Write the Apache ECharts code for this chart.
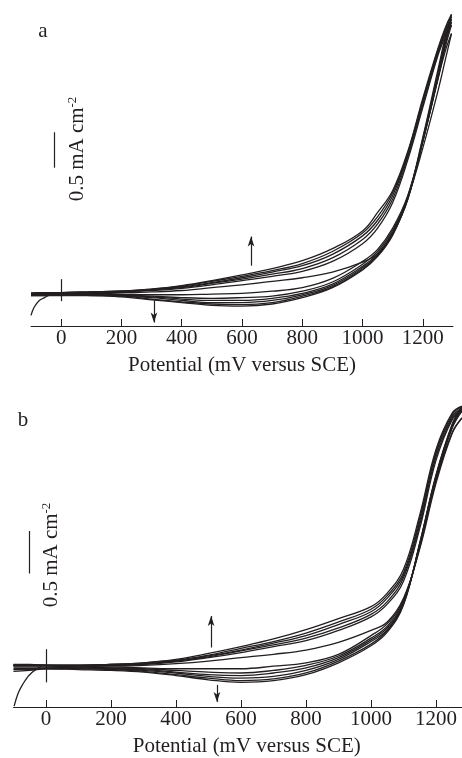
<!DOCTYPE html>
<html>
<head>
<meta charset="utf-8">
<script src="https://cdn.jsdelivr.net/npm/echarts@6/dist/echarts.min.js"></script>
<style>
  html, body { margin: 0; background: #fff; }
  #chart { width: 462px; height: 758px; }
</style>
</head>
<body>
<div id="chart"></div>
<script>
// tick labels shared by both panels (mV)
const xTicks = [0, 200, 400, 600, 800, 1000, 1200]

// ---- panel a : current density (mA cm-2) vs potential (mV vs SCE), 6 cycles
const potA = [-100, -50, 0, 100, 200, 300, 400, 500, 600, 700, 800, 900, 1000, 1050, 1100, 1150, 1200, 1250, 1275, 1295]
const fwdA = [
  [-0.01, 0.00, 0.00, 0.01, 0.01, 0.02, 0.04, 0.08, 0.12, 0.17, 0.22, 0.30, 0.44, 0.56, 0.85, 1.35, 2.05, 2.85, 3.30, 3.66],
  [0.00, 0.01, 0.01, 0.01, 0.02, 0.04, 0.07, 0.12, 0.18, 0.24, 0.31, 0.45, 0.70, 0.92, 1.28, 1.88, 2.62, 3.35, 3.62, 3.78],
  [0.00, 0.01, 0.01, 0.01, 0.02, 0.05, 0.08, 0.14, 0.20, 0.27, 0.35, 0.50, 0.76, 0.98, 1.33, 1.92, 2.66, 3.38, 3.66, 3.82],
  [0.00, 0.01, 0.01, 0.02, 0.03, 0.05, 0.09, 0.15, 0.22, 0.30, 0.39, 0.55, 0.81, 1.03, 1.38, 1.95, 2.70, 3.40, 3.69, 3.86],
  [0.00, 0.01, 0.01, 0.02, 0.03, 0.06, 0.10, 0.17, 0.24, 0.32, 0.42, 0.59, 0.85, 1.08, 1.42, 1.98, 2.72, 3.43, 3.72, 3.90],
  [0.00, 0.01, 0.01, 0.02, 0.03, 0.06, 0.11, 0.18, 0.26, 0.35, 0.46, 0.63, 0.88, 1.14, 1.45, 2.00, 2.75, 3.45, 3.75, 3.93]
]
const revA = [
  [-0.01, -0.01, 0.00, 0.00, -0.01, -0.02, -0.02, -0.01, 0.00, 0.03, 0.08, 0.21, 0.45, 0.62, 0.92, 1.38, 2.15, 3.02, 3.42, 3.66],
  [-0.02, -0.02, -0.01, -0.01, -0.02, -0.04, -0.06, -0.07, -0.06, -0.04, 0.03, 0.16, 0.41, 0.59, 0.89, 1.36, 2.14, 3.02, 3.48, 3.78],
  [-0.02, -0.02, -0.01, -0.02, -0.03, -0.05, -0.08, -0.10, -0.10, -0.07, 0.00, 0.13, 0.38, 0.56, 0.86, 1.34, 2.14, 3.04, 3.52, 3.82],
  [-0.02, -0.02, -0.02, -0.02, -0.04, -0.06, -0.10, -0.13, -0.13, -0.10, -0.02, 0.11, 0.36, 0.54, 0.84, 1.32, 2.16, 3.07, 3.56, 3.86],
  [-0.03, -0.03, -0.02, -0.03, -0.04, -0.08, -0.12, -0.15, -0.16, -0.13, -0.04, 0.09, 0.34, 0.53, 0.83, 1.33, 2.18, 3.10, 3.59, 3.90],
  [-0.03, -0.03, -0.03, -0.03, -0.05, -0.09, -0.13, -0.17, -0.18, -0.15, -0.06, 0.08, 0.33, 0.52, 0.82, 1.35, 2.20, 3.15, 3.62, 3.93]
]
// start of the first scan
const hookPotA = [-100, -90, -75, -55, -30, 0]
const hookCurA = [-0.31, -0.20, -0.11, -0.06, -0.01, 0.00]
// marks: [potential, current start, current end]
const zeroMarkA = [0, 0.20, -0.11]
const scaleBarA = [-23, 2.27, 1.77]
const arrowUpA = [630, 0.39, 0.80]
const arrowDownA = [308, -0.10, -0.41]

// ---- panel b
const potB = [-100, -50, 0, 100, 200, 300, 400, 500, 600, 700, 800, 900, 1000, 1050, 1100, 1150, 1200, 1250, 1280]
const fwdB = [
  [0.01, 0.01, 0.01, 0.00, 0.00, 0.01, 0.03, 0.06, 0.10, 0.14, 0.19, 0.28, 0.42, 0.52, 0.80, 1.38, 2.15, 2.74, 2.92],
  [0.01, 0.01, 0.01, 0.01, 0.01, 0.02, 0.05, 0.10, 0.16, 0.23, 0.30, 0.42, 0.58, 0.73, 1.00, 1.62, 2.42, 2.90, 3.00],
  [0.01, 0.01, 0.01, 0.01, 0.01, 0.03, 0.06, 0.11, 0.18, 0.25, 0.33, 0.45, 0.61, 0.76, 1.04, 1.66, 2.46, 2.92, 3.02],
  [0.01, 0.01, 0.01, 0.01, 0.02, 0.03, 0.06, 0.12, 0.19, 0.27, 0.36, 0.49, 0.64, 0.80, 1.07, 1.70, 2.50, 2.94, 3.03],
  [0.01, 0.01, 0.01, 0.01, 0.02, 0.04, 0.07, 0.13, 0.21, 0.29, 0.39, 0.52, 0.67, 0.83, 1.10, 1.74, 2.52, 2.96, 3.05],
  [0.01, 0.01, 0.01, 0.01, 0.02, 0.04, 0.08, 0.15, 0.23, 0.32, 0.43, 0.56, 0.70, 0.86, 1.14, 1.78, 2.55, 2.98, 3.06]
]
const revB = [
  [0.02, 0.02, 0.01, 0.00, -0.01, -0.02, -0.03, -0.03, -0.03, 0.00, 0.04, 0.14, 0.36, 0.50, 0.78, 1.40, 2.18, 2.75, 2.92],
  [0.00, 0.00, 0.00, -0.01, -0.02, -0.03, -0.05, -0.07, -0.08, -0.05, 0.01, 0.12, 0.33, 0.47, 0.76, 1.42, 2.20, 2.80, 3.00],
  [-0.01, -0.01, -0.01, -0.02, -0.03, -0.04, -0.07, -0.10, -0.11, -0.08, -0.02, 0.10, 0.31, 0.45, 0.75, 1.43, 2.22, 2.82, 3.02],
  [-0.03, -0.03, -0.02, -0.02, -0.03, -0.05, -0.08, -0.12, -0.14, -0.12, -0.05, 0.08, 0.29, 0.43, 0.74, 1.44, 2.23, 2.83, 3.03],
  [-0.04, -0.04, -0.03, -0.03, -0.04, -0.06, -0.10, -0.14, -0.17, -0.15, -0.08, 0.06, 0.26, 0.42, 0.73, 1.44, 2.24, 2.84, 3.05],
  [-0.06, -0.05, -0.03, -0.04, -0.05, -0.07, -0.11, -0.16, -0.19, -0.17, -0.10, 0.04, 0.24, 0.40, 0.72, 1.45, 2.25, 2.85, 3.06]
]
const hookPotB = [-98, -86, -71, -55, -45, -35, -15]
const hookCurB = [-0.47, -0.32, -0.21, -0.12, -0.08, -0.05, 0.00]
const zeroMarkB = [0, 0.20, -0.19]
const scaleBarB = [-52, 1.59, 1.09]
const arrowUpB = [508, 0.22, 0.59]
const arrowDownB = [526, -0.22, -0.42]

const INK = '#231f20'
const SERIF = '"Liberation Serif", "Times New Roman", serif'

const chart = echarts.init(document.getElementById('chart'))

function branch(pot, cur, gi) {
  return {
    type: 'line',
    xAxisIndex: gi,
    yAxisIndex: gi,
    data: pot.map((p, i) => [p, cur[i]]),
    smooth: 0.4,
    showSymbol: false,
    symbol: 'none',
    silent: true,
    lineStyle: { color: INK, width: 1.3 },
  }
}

function seg(m, withArrow) {
  return [
    { coord: [m[0], m[1]], symbol: 'none' },
    { coord: [m[0], m[2]], symbol: withArrow ? 'arrow' : 'none', symbolSize: [5, 10] },
  ]
}

function panelSeries(pot, fwd, rev, hookPot, hookCur, marks, gi) {
  const list = []
  fwd.forEach((c) => list.push(branch(pot, c, gi)))
  rev.forEach((c) => list.push(branch(pot, c, gi)))
  const hook = branch(hookPot, hookCur, gi)
  hook.markLine = {
    silent: true,
    animation: false,
    label: { show: false },
    lineStyle: { color: INK, width: 1.2, type: 'solid' },
    data: [
      seg(marks.zero, false),
      seg(marks.bar, false),
      seg(marks.up, true),
      seg(marks.down, true),
    ],
  }
  list.push(hook)
  return list
}

function xAxisFor(gi, min, max, padLeft) {
  return {
    gridIndex: gi,
    type: 'value',
    min: min,
    max: max,
    axisLine: { show: true, onZero: false, lineStyle: { color: INK, width: 1 } },
    axisTick: { show: true, inside: true, length: 7, customValues: xTicks, lineStyle: { color: INK, width: 1 } },
    axisLabel: {
      customValues: xTicks,
      formatter: (v) => String(v),
      color: INK,
      fontFamily: SERIF,
      fontSize: 21,
      margin: 2,
    },
    splitLine: { show: false },
    name: 'Potential (mV versus SCE)',
    nameLocation: 'middle',
    nameGap: 29,
    nameTextStyle: { color: INK, fontFamily: SERIF, fontSize: 21, padding: [0, 0, 0, padLeft] },
  }
}

function unitText(x, y) {
  return {
    type: 'text',
    x: x,
    y: y,
    rotation: Math.PI / 2,
    style: {
      text: '{n|0.5 mA cm}{s|-2}',
      align: 'center',
      verticalAlign: 'middle',
      fill: INK,
      rich: {
        n: { fontFamily: SERIF, fontSize: 21, fill: INK },
        s: { fontFamily: SERIF, fontSize: 13, fill: INK, verticalAlign: 'top' },
      },
    },
  }
}

chart.setOption({
  animation: false,
  backgroundColor: '#ffffff',
  grid: [
    { left: 31, width: 422, top: 13, height: 313 },
    { left: 13.5, width: 448.5, top: 406, height: 304 },
  ],
  xAxis: [xAxisFor(0, -100, 1300, 0), xAxisFor(1, -100, 1280, 18)],
  yAxis: [
    { gridIndex: 0, type: 'value', min: -0.46, max: 3.95, show: false },
    { gridIndex: 1, type: 'value', min: -0.48, max: 3.06, show: false },
  ],
  series: [
    ...panelSeries(potA, fwdA, revA, hookPotA, hookCurA,
      { zero: zeroMarkA, bar: scaleBarA, up: arrowUpA, down: arrowDownA }, 0),
    ...panelSeries(potB, fwdB, revB, hookPotB, hookCurB,
      { zero: zeroMarkB, bar: scaleBarB, up: arrowUpB, down: arrowDownB }, 1),
  ],
  graphic: [
    { type: 'text', x: 43, y: 31, style: { text: 'a', font: '21px ' + SERIF, fill: INK, align: 'center', verticalAlign: 'middle' } },
    { type: 'text', x: 23, y: 420, style: { text: 'b', font: '21px ' + SERIF, fill: INK, align: 'center', verticalAlign: 'middle' } },
    unitText(77, 149),
    unitText(51, 555),
  ],
})
</script>
</body>
</html>
